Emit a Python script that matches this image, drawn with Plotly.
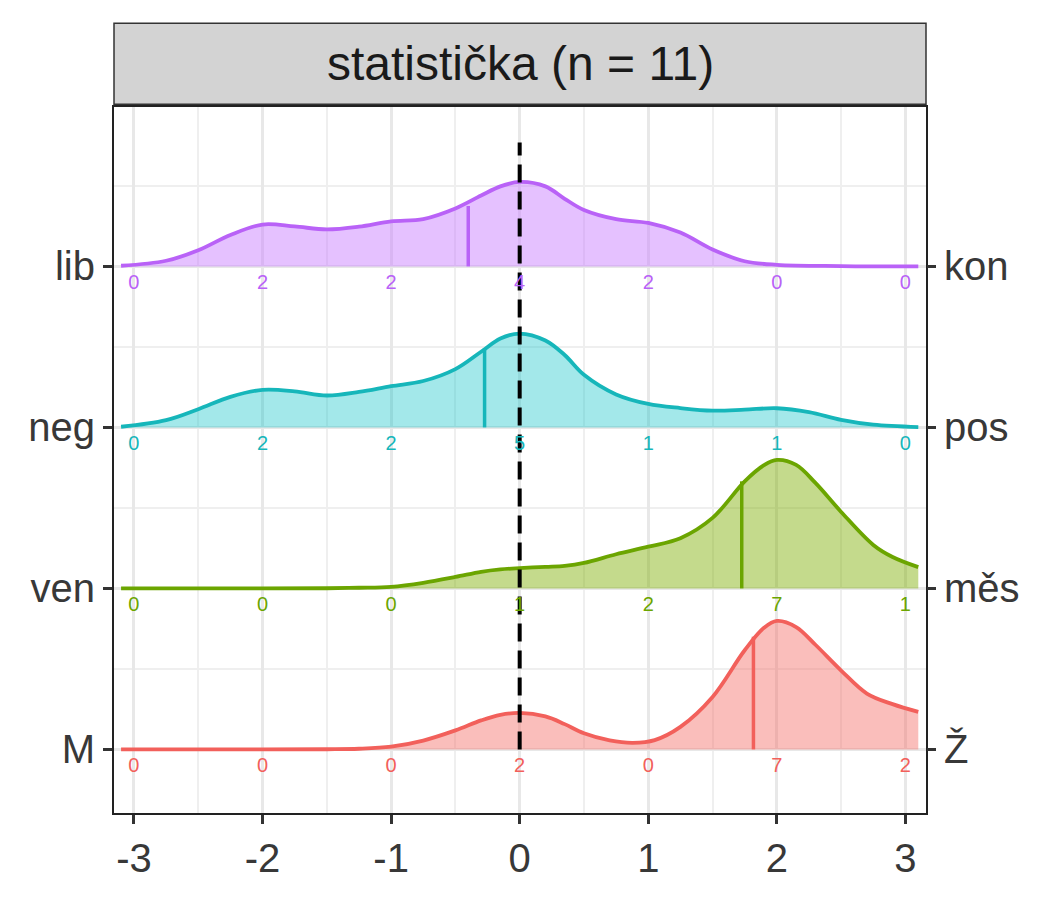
import plotly.graph_objects as go

# ridge categories (bottom to top) with left/right labels
left_labels = ['M', 'ven', 'neg', 'lib']
right_labels = ['Ž', 'měs', 'pos', 'kon']
levels = [1, 2, 3, 4]

line_colors = ['#F2605B', '#6BA500', '#16B6BA', '#B962F7']
fill_colors = ['rgba(243,110,105,0.45)', 'rgba(124,174,0,0.45)',
               'rgba(0,191,196,0.36)', 'rgba(199,124,255,0.47)']

# density curves (height above each baseline)
x_M = [-3.1, -2.0, -1.5, -1.25, -1.0, -0.75, -0.5, -0.3, -0.15, 0, 0.2, 0.35, 0.5,
       0.7, 0.88, 1.05, 1.25, 1.5, 1.75, 1.9, 2.0, 2.15, 2.3, 2.5, 2.7, 2.9, 3.1]
h_M = [0, 0, 0.001, 0.004, 0.017, 0.055, 0.118, 0.18, 0.215, 0.227, 0.205, 0.157, 0.1,
       0.056, 0.041, 0.058, 0.14, 0.326, 0.616, 0.755, 0.798, 0.76, 0.65, 0.49, 0.347, 0.281, 0.233]

x_ven = [-3.1, -2.0, -1.5, -1.25, -1.0, -0.75, -0.5, -0.3, -0.15, 0, 0.2, 0.35, 0.5,
         0.75, 1.0, 1.25, 1.5, 1.75, 1.9, 2.0, 2.15, 2.3, 2.5, 2.75, 2.9, 3.1]
h_ven = [0, 0, 0.001, 0.004, 0.01, 0.035, 0.071, 0.103, 0.118, 0.126, 0.134, 0.14, 0.158,
         0.212, 0.259, 0.312, 0.438, 0.665, 0.765, 0.798, 0.767, 0.655, 0.475, 0.27, 0.195, 0.132]

x_neg = [-3.1, -2.75, -2.5, -2.25, -2.0, -1.75, -1.5, -1.25, -1.0, -0.75, -0.5, -0.3, -0.15, 0,
         0.2, 0.35, 0.5, 0.75, 1.0, 1.25, 1.5, 1.75, 2.0, 2.25, 2.5, 2.75, 3.1]
h_neg = [0.004, 0.045, 0.113, 0.19, 0.233, 0.224, 0.198, 0.22, 0.256, 0.288, 0.362, 0.47, 0.552, 0.583,
         0.54, 0.45, 0.327, 0.205, 0.146, 0.12, 0.104, 0.11, 0.119, 0.095, 0.047, 0.017, 0.002]

x_lib = [-3.1, -2.75, -2.5, -2.25, -2.0, -1.75, -1.5, -1.25, -1.0, -0.75, -0.5, -0.3, -0.15, 0,
         0.2, 0.35, 0.5, 0.75, 1.0, 1.25, 1.5, 1.75, 2.0, 2.5, 3.1]
h_lib = [0.004, 0.035, 0.1, 0.195, 0.26, 0.248, 0.23, 0.247, 0.28, 0.294, 0.36, 0.44, 0.497, 0.525,
         0.497, 0.42, 0.35, 0.293, 0.27, 0.21, 0.105, 0.032, 0.01, 0.002, 0]

# means and curve height at the mean
means = [1.818, 1.727, -0.273, -0.4]
mean_heights = [0.70, 0.665, 0.49, 0.375]

# counts per answer (-3 .. 3)
answers = [-3, -2, -1, 0, 1, 2, 3]
counts_M = [0, 0, 0, 2, 0, 7, 2]
counts_ven = [0, 0, 0, 1, 2, 7, 1]
counts_neg = [0, 2, 2, 5, 1, 1, 0]
counts_lib = [0, 2, 2, 4, 2, 0, 0]

curves = [(x_M, h_M), (x_ven, h_ven), (x_neg, h_neg), (x_lib, h_lib)]
counts = [counts_M, counts_ven, counts_neg, counts_lib]

fig = go.Figure()

for i in range(4):
    xs, hs = curves[i]
    base = levels[i]
    # baseline for fill
    fig.add_trace(go.Scatter(x=xs, y=[base] * len(xs), mode='lines',
                             line=dict(width=0, color=line_colors[i]), showlegend=False,
                             hoverinfo='skip'))
    fig.add_trace(go.Scatter(x=xs, y=[base + h for h in hs], mode='lines',
                             line=dict(color=line_colors[i], width=3.8, shape='spline', smoothing=1.0),
                             fill='tonexty', fillcolor=fill_colors[i], showlegend=False))
    # mean line
    fig.add_trace(go.Scatter(x=[means[i], means[i]], y=[base, base + mean_heights[i]], mode='lines',
                             line=dict(color=line_colors[i], width=3.5), showlegend=False))

# dashed zero line
fig.add_trace(go.Scatter(x=[0, 0], y=[1, 4.77], mode='lines',
                         line=dict(color='black', width=4, dash='18px,9px'), showlegend=False))

# counts under each ridge (drawn on top)
for i in range(4):
    fig.add_trace(go.Scatter(x=answers, y=[levels[i] - 0.112] * len(answers), mode='text',
                             text=[str(c) for c in counts[i]],
                             textfont=dict(size=20, color=line_colors[i], family='Liberation Sans'),
                             showlegend=False))

# dummy trace so the right axis draws
fig.add_trace(go.Scatter(x=[0], y=[1], yaxis='y2', mode='markers',
                         marker=dict(opacity=0), showlegend=False, hoverinfo='skip'))

axis_font = dict(size=40, color='#383838', family='Liberation Sans')
yrange = [0.605, 4.99]

fig.update_layout(
    width=1034, height=884,
    margin=dict(l=106, r=116, t=99, b=76),
    plot_bgcolor='white', paper_bgcolor='white',
    xaxis=dict(range=[-3.155, 3.16], tickvals=answers, ticktext=['-3', '-2', '-1', '0', '1', '2', '3'],
               showgrid=True, gridcolor='#E8E8E8', gridwidth=2.5, zeroline=False,
               minor=dict(dtick=0.5, tick0=0, showgrid=True, gridcolor='#EFEFEF', gridwidth=1.5),
               ticks='outside', ticklen=9, tickwidth=3, tickcolor='#333333',
               showline=True, linecolor='#222222', linewidth=2, mirror=True,
               tickfont=axis_font),
    yaxis=dict(range=yrange, tickvals=levels, ticktext=left_labels,
               showgrid=True, gridcolor='#E8E8E8', gridwidth=2.5, zeroline=False,
               minor=dict(dtick=0.5, tick0=0.5, showgrid=True, gridcolor='#EFEFEF', gridwidth=1.5),
               ticks='outside', ticklen=9, tickwidth=3, tickcolor='#333333',
               showline=True, linecolor='#222222', linewidth=2, mirror=True,
               tickfont=axis_font),
    yaxis2=dict(range=yrange, tickvals=levels, ticktext=right_labels, overlaying='y', side='right',
                anchor='x', showgrid=False, zeroline=False,
                ticks='outside', ticklen=9, tickwidth=3, tickcolor='#333333',
                tickfont=axis_font),
)

# facet strip
fig.add_shape(type='rect', xref='paper', yref='paper', x0=0, x1=1, y0=1.004, y1=1.1185,
              fillcolor='#D3D3D3', line=dict(color='#333333', width=1.5))
fig.add_annotation(text='statistička (n = 11)', xref='paper', yref='paper', x=0.5, y=1.061,
                   xanchor='center', yanchor='middle', showarrow=False,
                   font=dict(size=48, color='#1A1A1A', family='Liberation Sans'))

fig.write_html('out.html')
